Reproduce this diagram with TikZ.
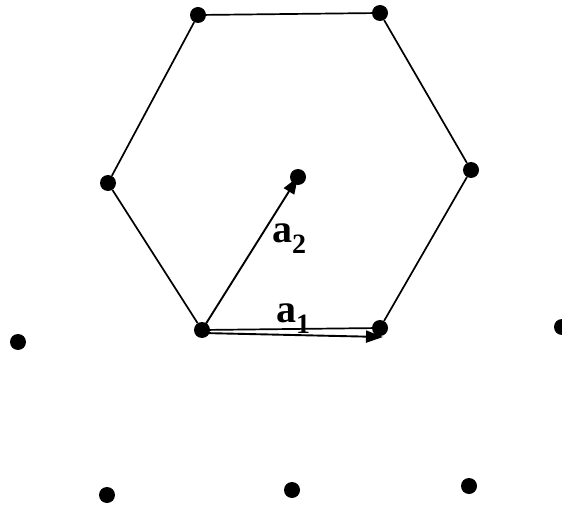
\documentclass[tikz,border=0pt]{standalone}
\usepackage{fontspec}
\setmainfont{Liberation Serif}
\usetikzlibrary{arrows.meta}
\newcommand{\veclbl}[1]{\textbf{a}\raisebox{-11pt}{\fontsize{28}{28}\selectfont\bfseries #1}}

\begin{document}
\begin{tikzpicture}[x=1pt,y=-1pt,
  site/.style={circle,fill=black,inner sep=0pt,minimum size=16pt},
  edge/.style={draw=black,line width=1.7pt},
  vec/.style={draw=black,line width=1.9pt,-{Triangle[length=17pt,width=12pt]}},
  lbl/.style={font=\fontsize{40}{40}\selectfont,inner sep=0pt,anchor=base west},
]
  \useasboundingbox (0,0) rectangle (562,505);
  % hexagon sites
  \node[site] (h1) at (198,15)  {};
  \node[site] (h2) at (380,13)  {};
  \node[site] (h3) at (471,170) {};
  \node[site] (h4) at (380,328) {};
  \node[site] (h5) at (202,330) {};
  \node[site] (h6) at (108,183) {};
  \node[site] (c)  at (298,177) {};
  % outer sites
  \node[site] (o1) at (18,342)  {};
  \node[site] (o2) at (562,327) {};
  \node[site] (o3) at (107,495) {};
  \node[site] (o4) at (292,490) {};
  \node[site] (o5) at (469,486) {};
  \foreach \p/\q in {h1/h2,h2/h3,h3/h4,h4/h5,h5/h6,h6/h1}
    \draw[edge] (\p) -- (\q);
  % basis vectors
  \coordinate (a1s) at (202,333);
  \coordinate (a1e) at (383,337);
  \draw[vec] (a1s) -- (a1e);
  \draw[vec] (h5.center) -- (c.center);
  \node[lbl] (l1) at (276,322) {\veclbl{1}};
  \node[lbl] (l2) at (272,242) {\veclbl{2}};
\end{tikzpicture}
\end{document}
